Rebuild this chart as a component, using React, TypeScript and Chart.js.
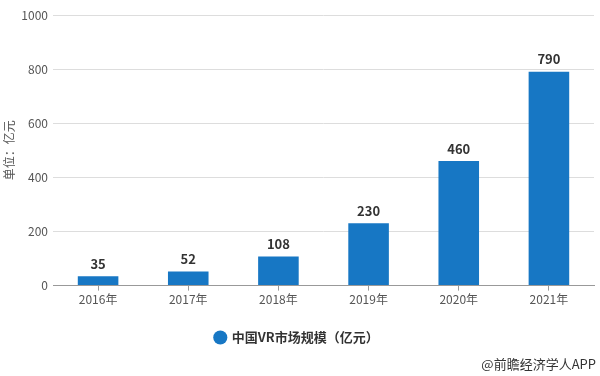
import React, { useEffect, useRef } from "react";
import { Chart, registerables } from "chart.js";

Chart.register(...registerables);

const categories = ["2016年", "2017年", "2018年", "2019年", "2020年", "2021年"];
const marketSize = [35, 52, 108, 230, 460, 790];
const seriesName = "中国VR市场规模（亿元）";
const yTitle = "单位：亿元";
const footnote = "@前瞻经济学人APP";

const FONT = "'Noto Sans CJK SC', 'Microsoft YaHei', sans-serif";
const BAR_COLOR = "#1777c4";

const valueLabels = {
  id: "valueLabels",
  afterDatasetsDraw(chart: any) {
    const ctx = chart.ctx;
    const meta = chart.getDatasetMeta(0);
    ctx.save();
    ctx.font = `bold 13px ${FONT}`;
    ctx.fillStyle = "#333333";
    ctx.textAlign = "center";
    ctx.textBaseline = "bottom";
    meta.data.forEach((bar: any, i: number) => {
      ctx.fillText(String(chart.data.datasets[0].data[i]), bar.x, bar.y - 6);
    });
    ctx.restore();
  },
};

const footnotePlugin = {
  id: "footnote",
  afterDraw(chart: any) {
    const ctx = chart.ctx;
    ctx.save();
    ctx.font = `13px ${FONT}`;
    ctx.fillStyle = "#333333";
    ctx.textAlign = "right";
    ctx.textBaseline = "middle";
    ctx.fillText(footnote, chart.width - 4, 364);
    ctx.restore();
  },
};

export default function App() {
  const ref = useRef<HTMLCanvasElement>(null);
  useEffect(() => {
    document.body.style.margin = "0";
    const chart = new Chart(ref.current!, {
      type: "bar",
      data: {
        labels: categories,
        datasets: [
          {
            label: seriesName,
            data: marketSize,
            backgroundColor: BAR_COLOR,
            borderWidth: 0,
            barPercentage: 0.9,
            categoryPercentage: 0.5,
          },
        ],
      },
      options: {
        responsive: false,
        animation: false,
        layout: { padding: { top: 15, right: 6, bottom: 22, left: 0 } },
        plugins: {
          tooltip: { enabled: false },
          legend: {
            position: "bottom",
            labels: {
              usePointStyle: true,
              pointStyle: "circle",
              boxWidth: 10,
              boxHeight: 10,
              padding: 10,
              color: "#333333",
              font: { family: FONT, size: 13, weight: "bold" },
            },
          },
        },
        scales: {
          x: {
            afterFit(scale: any) {
              scale.height += 12;
            },
            grid: {
              display: true,
              drawOnChartArea: false,
              offset: false,
              tickLength: 5,
              color: "#999999",
            },
            border: { display: true, color: "#999999" },
            ticks: {
              color: "#555555",
              padding: 2,
              font: { family: FONT, size: 12 },
            },
          },
          y: {
            min: 0,
            max: 1000,
            afterFit(scale: any) {
              scale.width = 53;
            },
            border: { display: false },
            grid: { color: "#dddddd", drawTicks: false },
            ticks: {
              stepSize: 200,
              padding: 5,
              color: "#555555",
              font: { family: FONT, size: 12 },
              callback: (v: any) => String(v),
            },
            title: {
              display: true,
              text: yTitle,
              color: "#555555",
              font: { family: FONT, size: 12 },
              padding: { top: 2, bottom: 0 },
            },
          },
        },
      },
      plugins: [valueLabels, footnotePlugin],
    });
    return () => chart.destroy();
  }, []);
  return <canvas ref={ref} width={600} height={376} style={{ display: "block" }} />;
}
